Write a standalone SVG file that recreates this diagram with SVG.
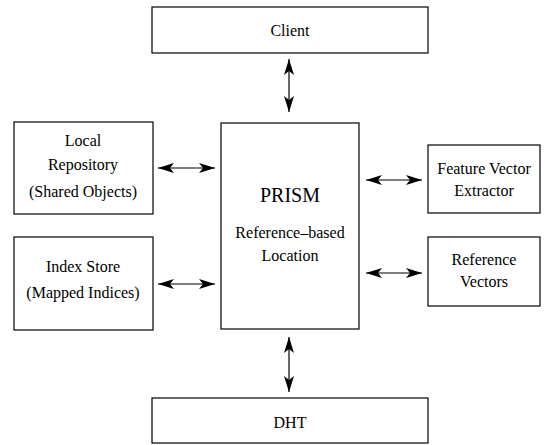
<svg xmlns="http://www.w3.org/2000/svg" width="545" height="445" viewBox="0 0 545 445">
<style>
rect{fill:#fff;stroke:#000;stroke-width:1.2}
text{font-size:16px;text-anchor:middle;fill:#000}
.big{font-size:20px}
line{stroke:#000;stroke-width:1.2}
</style>
<defs>
<marker id="ah" markerUnits="userSpaceOnUse" markerWidth="18" markerHeight="12" viewBox="-17 -6 17 12" refX="0" refY="0" orient="auto-start-reverse">
<path d="M0,0 L-16,-5 L-12,0 L-16,5 Z" fill="#000"/>
</marker>
</defs>
<rect width="545" height="445" style="stroke:none"/>
<g font-family="Liberation Serif, Times New Roman, serif">
<g id="client"><rect x="152" y="7" width="276" height="46"/><text x="290" y="36">Client</text></g>
<g id="local"><rect x="14" y="122" width="139" height="92"/><text x="83" y="146">Local</text><text x="83" y="170">Repository</text><text x="83" y="197">(Shared Objects)</text></g>
<g id="index"><rect x="14" y="237" width="139" height="93"/><text x="83" y="272">Index Store</text><text x="83" y="298">(Mapped Indices)</text></g>
<g id="prism"><rect x="221" y="123" width="138" height="206"/><text class="big" x="290" y="202">PRISM</text><text x="290" y="238">Reference–based</text><text x="290" y="261">Location</text></g>
<g id="feature"><rect x="428" y="145" width="112" height="68"/><text x="484" y="174">Feature Vector</text><text x="484" y="196">Extractor</text></g>
<g id="refvec"><rect x="428" y="237" width="112" height="69"/><text x="484" y="265">Reference</text><text x="484" y="287">Vectors</text></g>
<g id="dht"><rect x="152" y="398" width="276" height="45"/><text x="290" y="428">DHT</text></g>
</g>
<g id="connectors" marker-start="url(#ah)" marker-end="url(#ah)">
<line x1="289" y1="59" x2="289" y2="112"/>
<line x1="289" y1="337" x2="289" y2="392"/>
<line x1="158" y1="168" x2="215" y2="168"/>
<line x1="158" y1="284" x2="215" y2="284"/>
<line x1="366" y1="180" x2="422" y2="180"/>
<line x1="366" y1="273" x2="422" y2="273"/>
</g>
</svg>
